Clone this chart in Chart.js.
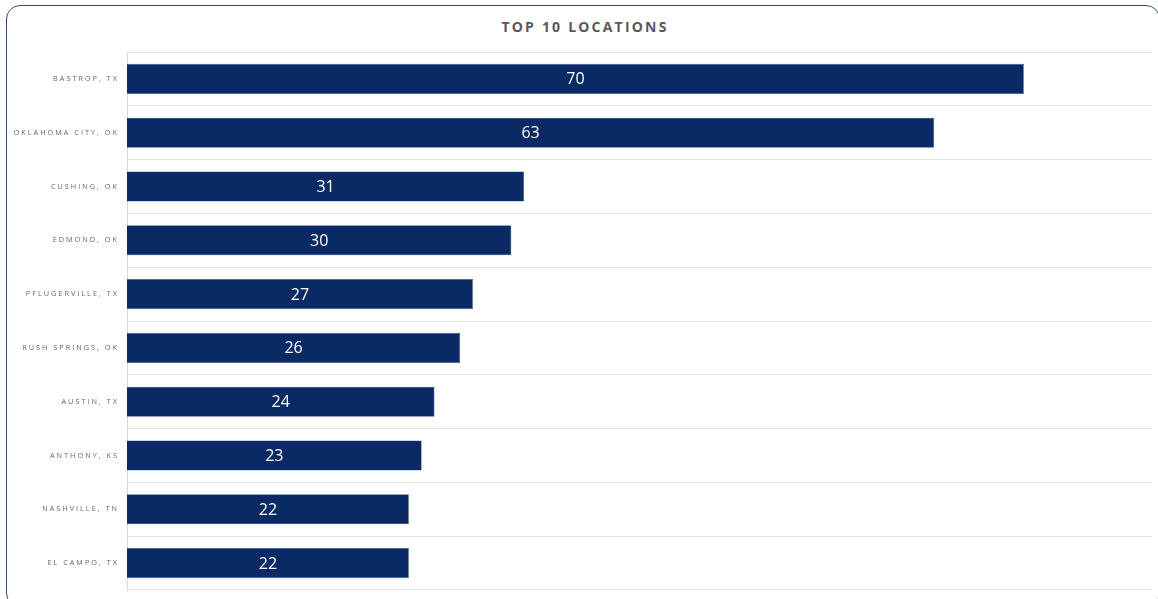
<!DOCTYPE html>
<html>
<head>
<meta charset="utf-8">
<title>Top 10 Locations</title>
<script src="https://cdn.jsdelivr.net/npm/chart.js@4"></script>
<style>
  html, body { margin: 0; padding: 0; background: #fff; overflow: hidden; }
  #wrap { position: relative; width: 1158px; height: 599px; overflow: hidden; }
  #frame {
    position: absolute; left: 6px; top: 5px; width: 1154px; height: 602px;
    border: 1.5px solid #2f4b7c; border-radius: 14px; box-sizing: border-box;
  }
  #title {
    position: absolute; left: 0; top: 17px; width: 1170px; text-align: center;
    font: bold 14px "Open Sans", sans-serif; color: #595959; letter-spacing: 2.2px;
  }
  canvas { position: absolute; left: 0; top: 0; }
</style>
</head>
<body>
<div id="wrap">
  <div id="frame"></div>
  <div id="title">TOP 10 LOCATIONS</div>
  <canvas id="myChart" width="1158" height="599"></canvas>
</div>
<script>
const locations = ['BASTROP, TX', 'OKLAHOMA CITY, OK', 'CUSHING, OK', 'EDMOND, OK', 'PFLUGERVILLE, TX',
  'RUSH SPRINGS, OK', 'AUSTIN, TX', 'ANTHONY, KS', 'NASHVILLE, TN', 'EL CAMPO, TX']
const counts = [70, 63, 31, 30, 27, 26, 24, 23, 22, 22]
const axisMax = 80

// spaced-out tick text, then plain text for the numbers inside the bars
const spacing = {
    id: 'spacing',
    beforeDraw(chart) {
        chart.ctx.letterSpacing = '2px'
    },
    afterDraw(chart) {
        chart.ctx.letterSpacing = '0px'
    }
}

const barValues = {
    id: 'barValues',
    afterDatasetsDraw(chart) {
        const ctx = chart.ctx
        ctx.save()
        ctx.letterSpacing = '0px'
        ctx.fillStyle = '#ffffff'
        ctx.font = '16px "Open Sans", sans-serif'
        ctx.textAlign = 'center'
        ctx.textBaseline = 'middle'
        chart.getDatasetMeta(0).data.forEach((bar, i) => {
            ctx.fillText(counts[i], (bar.base + bar.x) / 2, bar.y + 1)
        })
        ctx.restore()
    }
}

const ctx = document.getElementById('myChart').getContext('2d')
const myChart = new Chart(ctx, {
    type: 'bar',
    data: {
        labels: locations,
        datasets: [{
            data: counts,
            backgroundColor: '#0a2a66',
            borderColor: '#3b5b94',
            borderWidth: 0.6,
            barPercentage: 0.56,
            categoryPercentage: 1
        }]
    },
    plugins: [spacing, barValues],
    options: {
        indexAxis: 'y',
        responsive: false,
        animation: false,
        layout: { padding: { top: 52, right: 6, bottom: 9, left: 0 } },
        plugins: {
            legend: { display: false },
            tooltip: { enabled: false }
        },
        scales: {
            x: { display: false, min: 0, max: axisMax },
            y: {
                afterFit: (scale) => {
                    scale.width = 127
                    // labels sit beside the bars, no extra room needed above/below
                    scale.paddingTop = 0
                    scale.paddingBottom = 0
                },
                grid: { offset: true, color: '#e2e2e2', drawTicks: false },
                border: { color: '#d9d9d9' },
                ticks: {
                    padding: 8,
                    color: '#666666',
                    font: { family: 'Open Sans', size: 7.3 }
                }
            }
        }
    }
})
</script>
</body>
</html>
